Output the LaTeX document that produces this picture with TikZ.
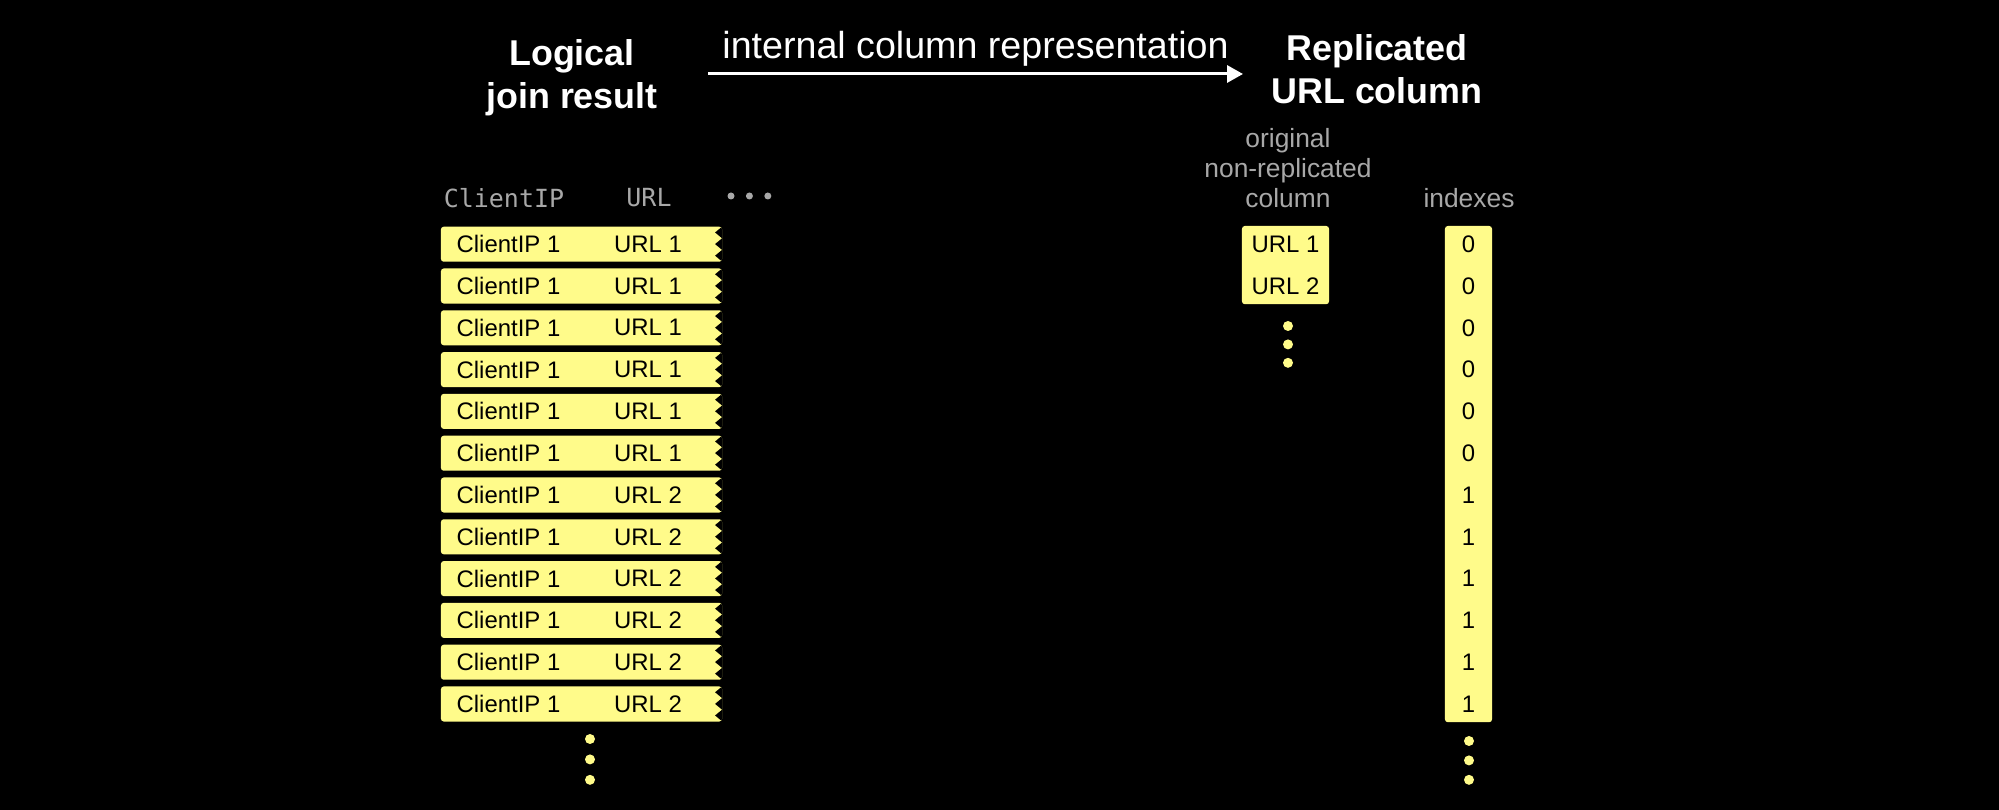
\documentclass[tikz,border=0pt]{standalone}
\usepackage{fontspec}
\setmainfont{Liberation Sans}
\setmonofont{DejaVu Sans Mono}
\usepackage{tikz}
\usetikzlibrary{calc, fit, positioning, arrows.meta}
\pgfdeclarelayer{background}
\pgfsetlayers{background,main}
\definecolor{rowyellow}{HTML}{FFFB8A}
\definecolor{headgrey}{HTML}{A8A8A8}
\tikzstyle{title}   = [text=white, font=\fontsize{10.2}{12.2}\selectfont\bfseries, align=center]
\tikzstyle{caption} = [text=headgrey, font=\fontsize{7.5}{8.5}\selectfont, align=center]
\tikzstyle{colhead} = [text=headgrey, font=\fontsize{7.1}{8}\selectfont\ttfamily]
\tikzstyle{cell}    = [text=black, font=\fontsize{6.8}{8}\selectfont, inner sep=0pt]
\tikzstyle{strip}   = [rectangle, fill=rowyellow, rounded corners=0.8pt, minimum width=2.81cm, minimum height=0.35cm, inner sep=0pt,
                       path picture={\fill[black, sharp corners] (path picture bounding box.north east)
                         -- ++(-7,5.8) -- ++(7,5.8) -- ++(-7,5.8) -- ++(7,5.8) -- ++(-7,5.8) -- ++(7,5.8)
                         -- ++(5,0) -- ++(0,-40) -- cycle;}]
\tikzstyle{column}  = [rectangle, fill=rowyellow, rounded corners=0.8pt, inner sep=0pt]
\tikzstyle{dot}     = [circle, fill=rowyellow, inner sep=0pt, minimum size=0.1cm]
\tikzstyle{greydot} = [circle, fill=headgrey, inner sep=0pt, minimum size=0.07cm]
\tikzstyle{arrow}   = [white, line width=0.85pt, -{Triangle[length=4.5pt, width=4.8pt]}]

\begin{document}
\begin{tikzpicture}[x=0.01cm, y=-0.01cm]
    \begin{pgfonlayer}{background}
      \fill [black] (0,0) rectangle (1999,810);
    \end{pgfonlayer}

    % titles and arrow
    \node (logical)    [title] at (572,78) {Logical\\join result};
    \node (replicated) [title] at (1377,69) {Replicated\\URL column};
    \coordinate (astart) at (708,74);
    \coordinate (aend)   at (1243,74);
    \draw [arrow] (astart) -- node (internal) [midway, yshift=0.25cm, text=white, font=\fontsize{10.7}{12}\selectfont] {internal column representation} (aend);

    % column heads
    \node (hip)  [colhead] at (504,198) {ClientIP};
    \node (hurl) [colhead] at (649,198) {URL};
    \node (hmore1) [greydot] at (731,196) {};
    \node (hmore2) [greydot, right=0.1cm of hmore1] {};
    \node (hmore3) [greydot, right=0.1cm of hmore2] {};
    \node (orighead) [caption] at (1288,168) {original\\non-replicated\\column};
    \node (idxhead)  [caption] at (1469,198) {indexes};

    % rows of the join result and the index column
    \foreach \i in {1,...,12} {
      \pgfmathtruncatemacro\u{\i<7 ? 1 : 2}
      \pgfmathtruncatemacro\v{\u-1}
      \pgfmathsetmacro\y{244.2+41.8*(\i-1)}
      \node (row\i) [strip] at (581.5,\y) {};
      \node (ip\i)  [cell] at (508.5,\y) {ClientIP 1};
      \node (url\i) [cell] at (648,\y) {URL \u};
      \node (idx\i) [cell] at (1468.5,\y) {\v};
    }

    % original column
    \node (orig1) [cell] at (1285.5,244.2) {URL 1};
    \node (orig2) [cell] at (1285.5,286) {URL 2};

    \begin{pgfonlayer}{background}
      \node (origcol) [column, minimum width=0.87cm, fit={(orig1 |- row1.north) (orig2 |- row2.south)}] {};
      \node (idxcol)  [column, minimum width=0.47cm, fit={(idx1 |- row1.north) (idx12 |- row12.south)}] {};
    \end{pgfonlayer}

    % more rows
    \node (rowdots1) [dot] at (590,739) {};
    \node (rowdots2) [dot, below=0.09cm of rowdots1] {};
    \node (rowdots3) [dot, below=0.09cm of rowdots2] {};
    \node (origdots1) [dot] at (1288,326) {};
    \node (origdots2) [dot, below=0.07cm of origdots1] {};
    \node (origdots3) [dot, below=0.07cm of origdots2] {};
    \node (idxdots1) [dot] at (1469,741) {};
    \node (idxdots2) [dot, below=0.08cm of idxdots1] {};
    \node (idxdots3) [dot, below=0.08cm of idxdots2] {};
\end{tikzpicture}
\end{document}
